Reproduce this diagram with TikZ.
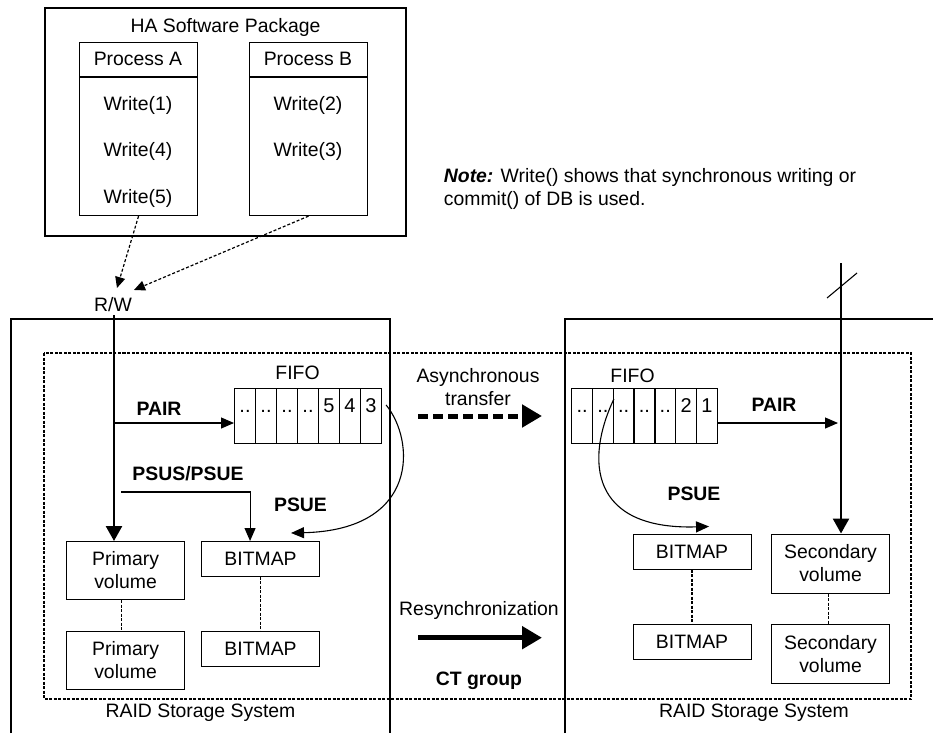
\documentclass[tikz,border=0pt]{standalone}
\usepackage{fontspec}
\setmainfont{Liberation Sans}
\usetikzlibrary{arrows.meta, positioning}

\begin{document}
\begin{tikzpicture}[x=1pt, y=-1pt, line width=1.1pt,
    font=\fontsize{19.4}{23}\selectfont,
    box/.style={draw, line width=1.1pt, inner sep=0pt, align=center, minimum width=118pt, anchor=north west},
    cell/.style={draw, line width=1.1pt, inner sep=0pt, minimum width=21pt, anchor=north west,
                 text height=24pt, text depth=31pt, font=\fontsize{20}{23}\selectfont},
    cgroup/.style={line width=1.2pt, dash pattern=on 3pt off 1.5pt},
    link/.style={line width=1.2pt, dash pattern=on 3pt off 1.5pt},
    hint/.style={line width=1.2pt, dash pattern=on 3pt off 2pt, -{Triangle[length=11pt,width=10pt]}},
    fat/.style={line width=2.6pt, -{Triangle[length=15pt,width=16pt]}},
    thin/.style={line width=1.1pt, -{Triangle[length=13pt,width=11pt]}},
    big/.style={line width=5pt, -{Triangle[length=20pt,width=22pt]}},
    lbl/.style={font=\fontsize{19.4}{23}\selectfont\bfseries}]

    \useasboundingbox (0,0) rectangle (933,733);

    % =================================================================
    % 1. HA SOFTWARE PACKAGE
    % =================================================================
    \draw (45,8) rectangle (406,236);
    \node (ha) at (225.5,27) {HA Software Package};

    \node[box, minimum height=173pt] (procA) at (79,42) {};
    \node[box, minimum height=173pt] (procB) at (249,42) {};
    \draw ([yshift=-35pt]procA.north west) -- ([yshift=-35pt]procA.north east);
    \draw ([yshift=-35pt]procB.north west) -- ([yshift=-35pt]procB.north east);
    \node (titleA) at (138,59) {Process A};
    \node (titleB) at (308,59) {Process B};

    % Write() calls of each process
    \foreach \k/\y in {1/105, 4/151.5, 5/198}
        \node (wA\k) at (138,\y) {Write(\k)};
    \foreach \k/\y in {2/105, 3/151.5}
        \node (wB\k) at (308,\y) {Write(\k)};

    \node[anchor=west, align=left] (note) at (440,189)
        {\textbf{\textit{Note:}} Write() shows that synchronous writing or\\commit() of DB is used.};

    % R/W entry
    \node (rw) at (113,305) {R/W};
    \draw[hint] (procA.south) -- ([shift={(4,-6)}]rw.north);
    \draw[hint] (procB.south) -- ([shift={(21,-4)}]rw.north);

    % =================================================================
    % 2. RAID STORAGE SYSTEMS AND CT GROUP
    % =================================================================
    \draw (11,733) -- (11,319) -- (390,319) -- (390,733);
    \draw (565,733) -- (565,319) -- (933,319);
    \node (raidL) at (200.5,713) {RAID Storage System};
    \node (raidR) at (754,713) {RAID Storage System};

    \draw[cgroup] (44,353) rectangle (911,699);

    % --- primary side ---
    \node (fifoL) at (297.5,372.5) {FIFO};
    \foreach \t [count=\i] in {..,..,..,..,5,4,3}
        \node[cell] (fa\i) at ({234+21*(\i-1)},388) {\t};

    \node[box, minimum height=58pt] (prim1) at (66,541) {Primary\\volume};
    \node[box, minimum height=58pt] (prim2) at (66,631) {Primary\\volume};
    \node[box, minimum height=34.5pt] (bmL1) at (201,541) {BITMAP};
    \node[box, minimum height=34.5pt] (bmL2) at (201,631) {BITMAP};
    \draw[link] ([xshift=-3.8pt]prim1.south) -- ([xshift=-3.8pt]prim2.north);
    \draw[link] (bmL1.south) -- (bmL2.north);

    \coordinate (rwfoot) at (114,315);
    \draw[fat] (rwfoot) -- (rwfoot |- prim1.north);

    \node[lbl] (pairL) at (159,408.5) {PAIR};
    \draw[thin] (114,423) -- (fa1.west |- 0,423);

    \node[lbl] (psus) at (188,473.5) {PSUS/PSUE};
    \coordinate (psusfoot) at (121,492);
    \draw[thin] (psusfoot) -| ([xshift=-10.5pt]bmL1.north);

    \node[lbl] (psueL) at (300.5,505) {PSUE};
    \draw[thin] ([shift={(4,17)}]fa7.north east) .. controls (415,440) and (420,530) .. ([shift={(30.5,-8)}]bmL1.north);

    % --- transfer between the systems ---
    \node[align=center] (async) at (478,387.5) {Asynchronous\\transfer};
    \coordinate (asyncL) at (418,416);
    \coordinate (asyncR) at (542,416);
    \draw[big, dash pattern=on 10pt off 5pt] (asyncL) -- (asyncR);

    \node (resync) at (479,610) {Resynchronization};
    \coordinate (resyncL) at (418,637.7);
    \coordinate (resyncR) at (542,637.7);
    \draw[big] (resyncL) -- (resyncR);

    \node[lbl] (ctgroup) at (479,681) {CT group};

    % --- secondary side ---
    \node (fifoR) at (632.5,376) {FIFO};
    \foreach \t [count=\i] in {..,..,..,..,..,2,1}
        \node[cell] (fb\i) at ({571+20.8*(\i-1)},388) {\t};

    \node[box, minimum height=35pt] (bmR1) at (632.5,533.5) {BITMAP};
    \node[box, minimum height=34.5pt] (bmR2) at (632.5,624) {BITMAP};
    \node[box, minimum height=59pt] (sec1) at (771,533.5) {Secondary\\volume};
    \node[box, minimum height=58.7pt] (sec2) at (771,624) {Secondary\\volume};
    \draw[link] (bmR1.south) -- (bmR2.north);
    \draw[link] ([xshift=-2.3pt]sec1.south) -- ([xshift=-2.3pt]sec2.north);

    \coordinate (sline) at (841,263);
    \draw[fat] (sline) -- (sline |- sec1.north);
    \draw ([shift={(-14,35)}]sline) -- ([shift={(16,10)}]sline);

    \node[lbl] (pairR) at (774,405) {PAIR};
    \coordinate (pairtip) at (838,423);
    \draw[thin] (fb7.east |- pairtip) -- (pairtip);

    \node[lbl] (psueR) at (694,493.5) {PSUE};
    \draw[thin] ([shift={(0,11)}]fb2.north east) .. controls (585,460) and (590,530) .. ([shift={(17,-7)}]bmR1.north);

\end{tikzpicture}
\end{document}
